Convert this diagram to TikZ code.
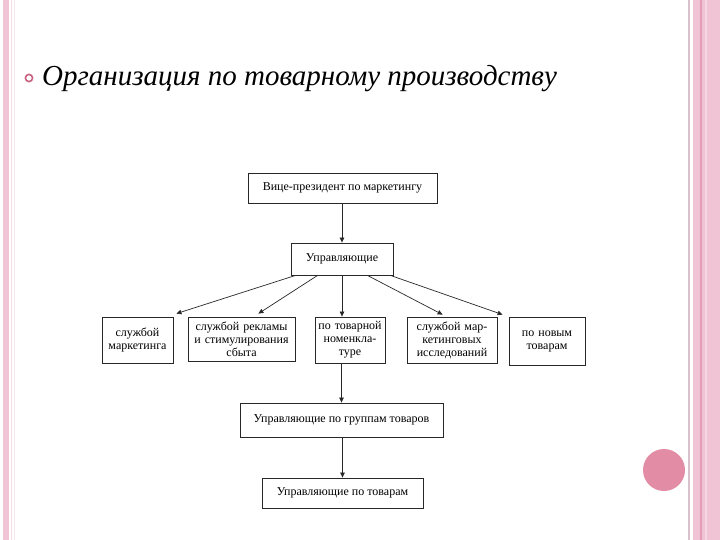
\documentclass[tikz,border=0pt]{standalone}
\usepackage{fontspec}
\setmainfont{Liberation Serif}
\usetikzlibrary{arrows.meta,calc}
\definecolor{stripe}{RGB}{240,196,212}
\definecolor{stripeD}{RGB}{229,154,181}
\definecolor{stripeG}{RGB}{216,192,204}
\definecolor{dot}{RGB}{226,140,165}
\definecolor{ring}{RGB}{200,96,127}
\definecolor{ln}{RGB}{40,40,40}
\tikzset{
  bx/.style={draw=ln, line width=0.8pt, align=center, inner sep=1pt, font=\fontsize{12}{13}\selectfont},
  conn/.style={draw=ln, line width=0.7pt, -{Triangle[length=5pt,width=4.5pt]}}
}
\begin{document}
\begin{tikzpicture}[x=1pt,y=-1pt]
\useasboundingbox (0,0) rectangle (720,540);
\fill[white] (0,0) rectangle (720,540);
% side stripes
\fill[stripe] (3,0) rectangle (9,540);
\fill[stripe!60] (11,0) rectangle (12,540);
\fill[stripe!40] (13.5,0) rectangle (14.5,540);
\fill[stripeG] (688,0) rectangle (690,540);
\fill[stripe] (693,0) rectangle (720,540);
\fill[stripeD] (700,0) rectangle (702,540);
\fill[stripe!70!white] (705,0) rectangle (707,540);
% pink dot
\fill[dot] (664,470) circle (21);
% title
\draw[ring, line width=1.6pt] (29,78) circle (3.6);
\node[anchor=base west, inner sep=0pt, font=\fontsize{29}{32}\selectfont\itshape] (title) at (42,86) {Организация по товарному производству};
% boxes
\node[bx, minimum width=189, minimum height=30] (v) at (342.5,188) {Вице-президент по маркетингу};
\node[bx, minimum width=102, minimum height=32] (u) at (342,259) {Управляющие};
\node[bx, minimum width=71, minimum height=46, text width=68] (b1) at (137.5,340) {службой\\маркетинга};
\node[bx, minimum width=107, minimum height=44, text width=105] (b2) at (241.5,339) {службой рекламы\\и стимулирования\\сбыта};
\node[bx, minimum width=70, minimum height=46, text width=68] (b3) at (350,340) {по товарной\\номенкла-\\туре};
\node[bx, minimum width=90, minimum height=46, text width=88] (b4) at (452,340) {службой мар-\\кетинговых\\исследований};
\node[bx, minimum width=76, minimum height=48, text width=74] (b5) at (547,341) {по новым\\товарам};
\node[bx, minimum width=203, minimum height=34] (g) at (341.5,420) {Управляющие по группам товаров};
\node[bx, minimum width=161, minimum height=30] (t) at (342.5,493) {Управляющие по товарам};
% connectors
\draw[conn] (v.south -| u.north) -- (u.north);
\draw[conn] ($(u.south west)+(5,0)$) -- ($(b1.north east)+(3,-3)$);
\draw[conn] ($(u.south west)+(27,0)$) -- ($(b2.north east)+(-37,-3)$);
\draw[conn] (u.south) -- (u.south |- b3.north);
\draw[conn] ($(u.south east)+(-26,0)$) -- ($(b4.north west)+(36,-2)$);
\draw[conn] ($(u.south east)+(-3,0)$) -- ($(b5.north west)+(-6,-2)$);
\draw[conn] (b3.south -| g.north) -- (g.north);
\draw[conn] (g.south -| t.north) -- (t.north);
\end{tikzpicture}
\end{document}
